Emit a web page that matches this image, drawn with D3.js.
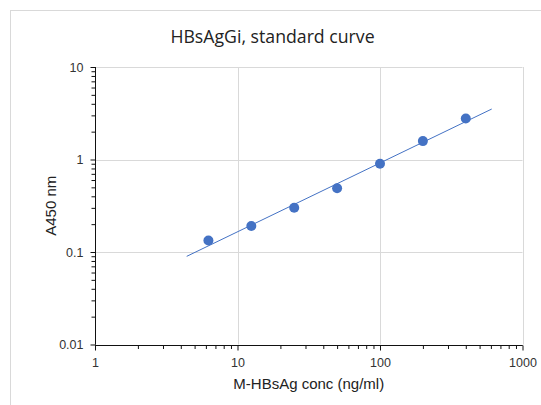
<!DOCTYPE html>
<html>
<head>
<meta charset="utf-8">
<script src="https://cdn.jsdelivr.net/npm/d3@7"></script>
<style>
  html, body { margin: 0; padding: 0; background: #fff; }
  svg { display: block; }
</style>
</head>
<body>
<svg id="chart" width="541" height="405"></svg>
<script>
// ---- data ----
const concentrations = [6.25, 12.5, 25, 50, 100, 200, 400];   // ng/ml
const absorbance     = [0.133, 0.191, 0.301, 0.488, 0.899, 1.58, 2.78]; // A450
const trendRange     = [4.4, 608];   // extent of the power trendline (ng/ml)
const xTickValues    = [1, 10, 100, 1000];
const xTickLabels    = ["1", "10", "100", "1000"];
const yTickValues    = [0.01, 0.1, 1, 10];
const yTickLabels    = ["0.01", "0.1", "1", "10"];
const titleText  = "HBsAgGi, standard curve";
const xTitleText = "M-HBsAg conc (ng/ml)";
const yTitleText = "A450 nm";

(function() {
// ---- layout ----
const svg = d3.select("#chart");
const pLeft = 95, pRight = 522.5, pTop = 67, pBottom = 344.5;
const blue = "#4472C4";
const textFont = "'Liberation Sans', Arial, sans-serif";

const x = d3.scaleLog().domain([1, 1000]).range([pLeft, pRight]);
const y = d3.scaleLog().domain([0.01, 10]).range([pBottom, pTop]);

// outer chart frame
svg.append("rect")
  .attr("x", 10.5).attr("y", 10.5)
  .attr("width", 560).attr("height", 420)
  .attr("fill", "none").attr("stroke", "#d9d9d9").attr("stroke-width", 1);

// title
svg.append("text")
  .attr("x", 272.5).attr("y", 42.7)
  .attr("text-anchor", "middle")
  .attr("font-family", "'Open Sans', sans-serif")
  .attr("font-size", 17.7)
  .attr("fill", "#222")
  .text(titleText);

// gridlines
const grid = svg.append("g").attr("stroke", "#d9d9d9").attr("stroke-width", 1);
grid.selectAll("line.gx").data(xTickValues.slice(1)).join("line").attr("class", "gx")
  .attr("x1", d => Math.round(x(d)) + 0.5).attr("x2", d => Math.round(x(d)) + 0.5)
  .attr("y1", pTop).attr("y2", pBottom);
grid.selectAll("line.gy").data(yTickValues.slice(1)).join("line").attr("class", "gy")
  .attr("y1", d => Math.round(y(d)) + 0.5).attr("y2", d => Math.round(y(d)) + 0.5)
  .attr("x1", pLeft).attr("x2", pRight);

// minor ticks
const xMinor = x.ticks().filter(v => !xTickValues.includes(v));
const yMinor = y.ticks().filter(v => !yTickValues.some(t => Math.abs(t - v) < 1e-9));

const axisX = svg.append("g").attr("transform", `translate(0,${Math.round(pBottom) + 0.5})`);
axisX.append("g").call(d3.axisBottom(x).tickValues(xMinor).tickSize(3.5).tickFormat(""));
axisX.append("g").call(d3.axisBottom(x).tickValues(xTickValues).tickSize(5)
  .tickFormat((d, i) => xTickLabels[i]).tickPadding(8));
axisX.selectAll("path.domain").attr("d", `M${pLeft},0H${pRight}`).attr("stroke", "#111");
axisX.selectAll("line").attr("stroke", "#111");
axisX.selectAll("text").attr("font-family", textFont).attr("font-size", 12.5).attr("fill", "#333");

const axisY = svg.append("g").attr("transform", `translate(${Math.round(pLeft) + 0.5},0)`);
axisY.append("g").call(d3.axisLeft(y).tickValues(yMinor).tickSize(4).tickFormat(""));
axisY.append("g").call(d3.axisLeft(y).tickValues(yTickValues).tickSize(5)
  .tickFormat((d, i) => yTickLabels[i]).tickPadding(7));
axisY.selectAll("path.domain").attr("d", `M0,${pTop}V${pBottom}`).attr("stroke", "#111");
axisY.selectAll("line").attr("stroke", "#111");
axisY.selectAll("text").attr("font-family", textFont).attr("font-size", 12.5).attr("fill", "#333");

// axis titles
svg.append("text")
  .attr("x", (pLeft + pRight) / 2).attr("y", 389)
  .attr("text-anchor", "middle")
  .attr("font-family", textFont).attr("font-size", 15).attr("fill", "#222")
  .text(xTitleText);
svg.append("text")
  .attr("transform", `translate(55.5,${(pTop + pBottom) / 2}) rotate(-90)`)
  .attr("text-anchor", "middle")
  .attr("font-family", textFont).attr("font-size", 15).attr("fill", "#222")
  .text(yTitleText);

// power trendline from least-squares fit in log-log space
const lx = concentrations.map(Math.log10), ly = absorbance.map(Math.log10);
const mx = d3.mean(lx), my = d3.mean(ly);
const slope = d3.sum(lx, (v, i) => (v - mx) * (ly[i] - my)) / d3.sum(lx, v => (v - mx) ** 2);
const intercept = my - slope * mx;
const fit = c => Math.pow(10, intercept + slope * Math.log10(c));
svg.append("path")
  .datum(trendRange)
  .attr("d", d3.line().x(d => x(d)).y(d => y(fit(d))))
  .attr("fill", "none").attr("stroke", blue).attr("stroke-width", 1);

// points
svg.append("g").selectAll("circle")
  .data(concentrations.map((c, i) => [c, absorbance[i]]))
  .join("circle")
  .attr("cx", d => x(d[0])).attr("cy", d => y(d[1]))
  .attr("r", 5).attr("fill", blue);
})();
</script>
</body>
</html>
